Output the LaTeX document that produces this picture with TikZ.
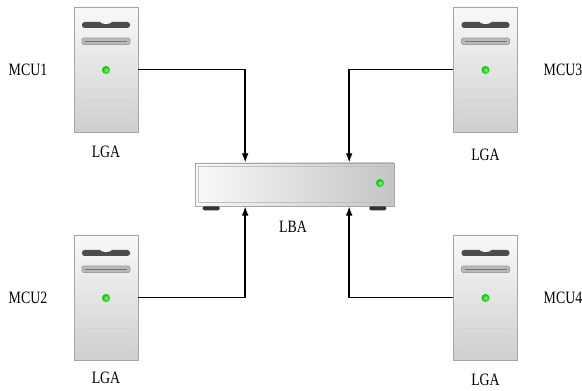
\documentclass[tikz,border=0pt]{standalone}
\usepackage{fontspec}
\setmainfont[FakeStretch=0.8]{Liberation Serif}
\usetikzlibrary{positioning,arrows.meta}

\tikzset{
  lga/.style={draw=gray!70, top color=gray!5, bottom color=gray!38, minimum width=48pt, minimum height=93.75pt, inner sep=0pt},
  lbabox/.style={draw=gray!70, left color=gray!5, right color=gray!45, minimum width=149.25pt, minimum height=32.25pt, inner sep=0pt},
  tag/.style={font=\fontsize{13}{15}\selectfont},
  link/.style={line width=1.1pt, -{Latex[length=7pt,width=5pt]}},
  pics/tower/.style={code={
    % drive bays
    \fill[black!70, rounded corners=2pt] (-24,-47.5) rectangle (24,-41.5);
    \fill[gray!8] (0,-47.8) ellipse (6 and 2.2);
    \filldraw[fill=gray!55, draw=gray!75, rounded corners=1pt] (-24,-31.5) rectangle (24,-25);
    \draw[black!55, line width=1pt] (-21,-28.2) -- (21,-28.2);
    % power light
    \shade[inner color=green!55!white, outer color=green!75!black] (0,0.5) circle (4);
    % vents
    \foreach \v in {30.5,39.5,48.5}
      \draw[gray!35] (-24,\v) -- (25,\v);
  }}
}

\begin{document}
\begin{tikzpicture}[x=0.75pt,y=-0.75pt]
  \useasboundingbox (0,0) rectangle (582,391);

  % computers
  \foreach \n/\px/\py/\mx/\gy in {1/106/69.5/28/152, 2/106/297.5/28/378, 3/485.5/69.5/563/155, 4/485.5/297.5/563/380} {
    \node[lga] (m\n) at (\px,\py) {};
    \pic at (m\n) {tower};
    \node[tag] (mcu\n) at (\mx,\py) {MCU\n};
    \node[tag] (lga\n) at (\px,\gy) {LGA};
  }

  % central box
  \node[lbabox] (lba) at (294.5,184.5) {};
  \draw[gray!50] ([shift={(3pt,-3pt)}]lba.north west) rectangle ([shift={(-3pt,3pt)}]lba.south east);
  \fill[black!80, rounded corners=1pt] ([xshift=6pt]lba.south west) rectangle ++(12.75pt,-3pt);
  \fill[black!80, rounded corners=1pt] ([xshift=-18.75pt]lba.south east) rectangle ++(12.75pt,-3pt);
  \shade[inner color=green!55!white, outer color=green!75!black] (380,183) circle (4);
  \node[tag] (lbl) at (293,227) {LBA};

  \coordinate (in1) at ([xshift=-37pt]lba.north);
  \coordinate (in3) at ([xshift=41pt]lba.north);
  \coordinate (in2) at ([xshift=-37pt]lba.south);
  \coordinate (in4) at ([xshift=41pt]lba.south);

  \draw[link] (m1.east) -| (in1);
  \draw[link] (m3.west) -| (in3);
  \draw[link] (m2.east) -| (in2);
  \draw[link] (m4.west) -| (in4);
\end{tikzpicture}
\end{document}
